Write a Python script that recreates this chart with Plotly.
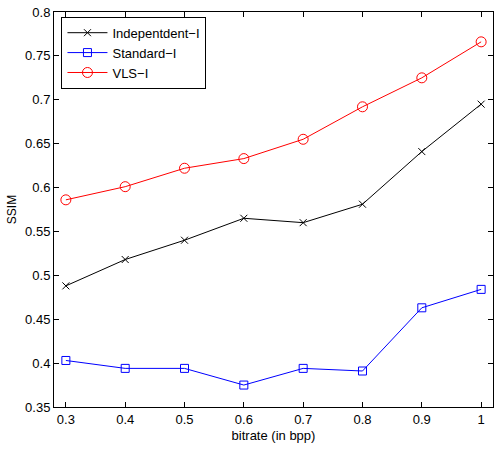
import plotly.graph_objects as go

bitrate = [0.3, 0.4, 0.5, 0.6, 0.7, 0.8, 0.9, 1.0]
independent_i = [0.488, 0.518, 0.540, 0.565, 0.560, 0.581, 0.641, 0.695]
standard_i = [0.403, 0.394, 0.394, 0.375, 0.394, 0.391, 0.463, 0.484]
vls_i = [0.586, 0.601, 0.622, 0.633, 0.655, 0.692, 0.725, 0.766]

x_ticks = [0.3, 0.4, 0.5, 0.6, 0.7, 0.8, 0.9, 1.0]
x_labels = ["0.3", "0.4", "0.5", "0.6", "0.7", "0.8", "0.9", "1"]
y_ticks = [0.35, 0.4, 0.45, 0.5, 0.55, 0.6, 0.65, 0.7, 0.75, 0.8]
y_labels = ["0.35", "0.4", "0.45", "0.5", "0.55", "0.6", "0.65", "0.7", "0.75", "0.8"]

FONT = "Liberation Sans, Arial, sans-serif"

fig = go.Figure()
fig.add_trace(go.Scatter(x=bitrate, y=independent_i, name="Indepentdent\u2212I", mode="lines+markers",
                         line=dict(color="black", width=1),
                         marker=dict(symbol="x-thin-open", size=7, color="black", line=dict(width=1, color="black"))))
fig.add_trace(go.Scatter(x=bitrate, y=standard_i, name="Standard\u2212I", mode="lines+markers",
                         line=dict(color="blue", width=1),
                         marker=dict(symbol="square-open", size=8, color="blue", line=dict(width=1))))
fig.add_trace(go.Scatter(x=bitrate, y=vls_i, name="VLS\u2212I", mode="lines+markers",
                         line=dict(color="red", width=1),
                         marker=dict(symbol="circle-open", size=10, color="red", line=dict(width=1))))

axis_common = dict(showline=True, linecolor="black", linewidth=1, mirror="ticks",
                   ticks="inside", ticklen=5, tickcolor="black", showgrid=False, zeroline=False,
                   tickfont=dict(family=FONT, size=13, color="black"))

fig.update_xaxes(range=[0.28, 1.02], tickvals=x_ticks, ticktext=x_labels,
                 title=dict(text="bitrate (in bpp)", standoff=5,
                            font=dict(family=FONT, size=13, color="black")),
                 **axis_common)
fig.update_yaxes(range=[0.35, 0.8], tickvals=y_ticks, ticktext=y_labels,
                 title=dict(text="SSIM", standoff=5,
                            font=dict(family=FONT, size=12, color="black")),
                 **axis_common)

fig.update_layout(
    width=496, height=452,
    margin=dict(l=54, r=3, t=12, b=45),
    paper_bgcolor="white", plot_bgcolor="white",
    font=dict(family=FONT, size=13, color="black"),
    legend=dict(x=0.017, y=0.988, xanchor="left", yanchor="top",
                bordercolor="black", borderwidth=1, bgcolor="white",
                font=dict(size=13), tracegroupgap=0, itemwidth=40),
)

fig.write_html("out.html", config={"displayModeBar": False},
               post_script="document.body.style.margin='0';")
